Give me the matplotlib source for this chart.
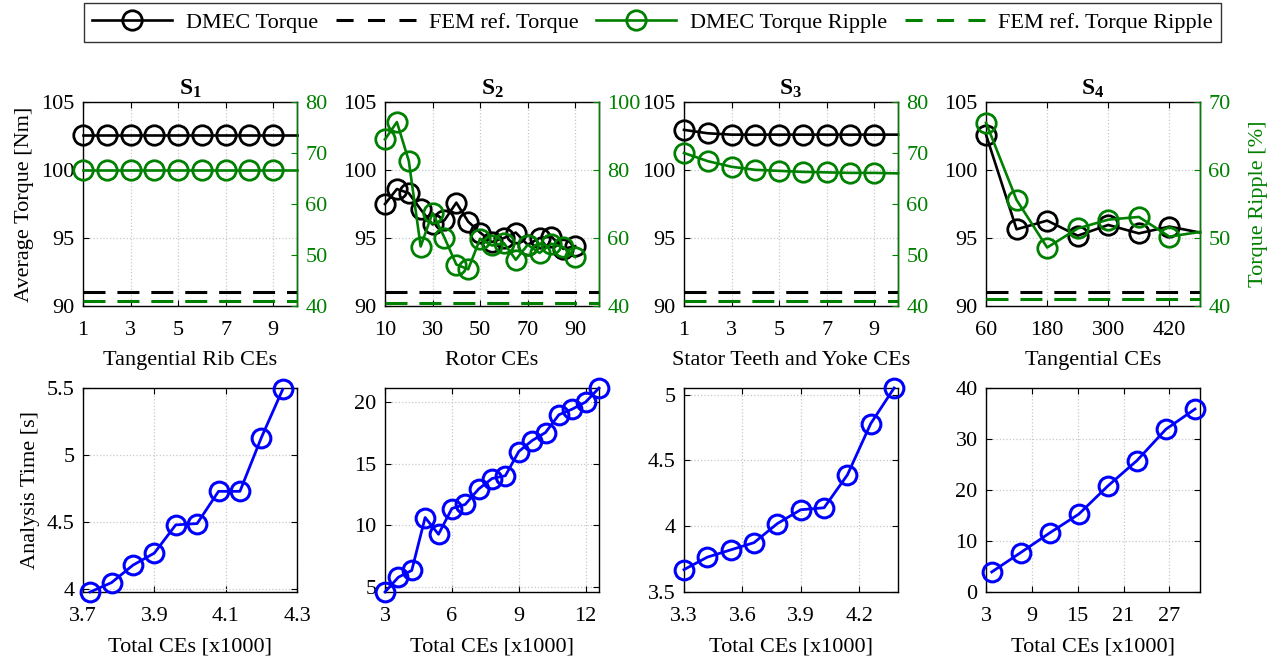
import matplotlib
matplotlib.use("Agg")
import matplotlib.pyplot as plt
from matplotlib.lines import Line2D
from matplotlib.ticker import FuncFormatter

plt.rcParams['font.family'] = ['Liberation Serif', 'DejaVu Serif']
plt.rcParams['mathtext.fontset'] = 'custom'
plt.rcParams['mathtext.rm'] = 'Liberation Serif'
plt.rcParams['mathtext.bf'] = 'Liberation Serif:bold'
plt.rcParams['font.size'] = 16

# ---------------- data ----------------
# S1: tangential rib CEs
s1_x = [1, 2, 3, 4, 5, 6, 7, 8, 9, 10]
s1_torque = [102.58] * 10
s1_ripple = [66.7] * 10
# S2: rotor CEs
s2_x = [10, 15, 20, 25, 30, 35, 40, 45, 50, 55, 60, 65, 70, 75, 80, 85, 90]
s2_torque = [97.5, 98.6, 98.3, 97.1, 96.0, 96.3, 97.6, 96.2, 95.4, 94.7,
             95.0, 95.4, 94.5, 95.0, 95.1, 94.2, 94.4]
s2_ripple = [89.0, 94.1, 82.7, 57.5, 67.4, 60.1, 52.2, 50.8, 59.8, 57.8,
             58.5, 53.6, 58.0, 55.6, 58.3, 57.3, 54.4]
# S3: stator teeth and yoke CEs
s3_x = [1, 2, 3, 4, 5, 6, 7, 8, 9, 10]
s3_torque = [102.95, 102.7, 102.6, 102.6, 102.6, 102.6, 102.6, 102.6, 102.6, 102.6]
s3_ripple = [70.0, 68.4, 67.3, 66.7, 66.5, 66.3, 66.2, 66.1, 66.1, 66.0]
# S4: tangential CEs
s4_x = [60, 120, 180, 240, 300, 360, 420, 480]
s4_torque = [102.6, 95.64, 96.28, 95.17, 95.96, 95.34, 95.84, 95.4]
s4_ripple = [66.95, 55.6, 48.6, 51.4, 52.7, 53.1, 50.2, 50.9]

fem_torque = 91.0
fem_ripple = 41.0

# analysis time vs total CEs [x1000]
b1_x = [3.72, 3.78, 3.84, 3.90, 3.96, 4.02, 4.08, 4.14, 4.20, 4.26]
b1_t = [3.98, 4.05, 4.18, 4.27, 4.48, 4.49, 4.73, 4.73, 5.13, 5.49]
b2_x = [3.0, 3.6, 4.2, 4.8, 5.4, 6.0, 6.6, 7.2, 7.8, 8.4, 9.0, 9.6, 10.2,
        10.8, 11.4, 12.0, 12.6]
b2_t = [4.6, 5.8, 6.35, 10.64, 9.28, 11.37, 11.7, 12.95, 13.8, 14.03,
        15.99, 16.88, 17.53, 18.97, 19.43, 20.0, 21.14]
b3_x = [3.30, 3.42, 3.54, 3.66, 3.78, 3.90, 4.02, 4.14, 4.26, 4.38]
b3_t = [3.67, 3.765, 3.82, 3.875, 4.02, 4.125, 4.14, 4.39, 4.78, 5.05]
b4_x = [3.75, 7.55, 11.35, 15.15, 18.95, 22.75, 26.55, 30.35]
b4_t = [3.93, 7.74, 11.6, 15.28, 20.8, 25.77, 31.93, 35.87]

titles = [r'$\mathbf{S_1}$', r'$\mathbf{S_2}$', r'$\mathbf{S_3}$', r'$\mathbf{S_4}$']
top_xlabels = ['Tangential Rib CEs', 'Rotor CEs', 'Stator Teeth and Yoke CEs', 'Tangential CEs']
bottom_xlabel = 'Total CEs [x1000]'

BLACK = '#000000'
GREEN = '#008000'
BLUE = '#0000FF'

W, H = 1273, 660
fig = plt.figure(figsize=(W / 100, H / 100), dpi=100)

lefts = [83, 385, 684, 986]
aw, ah = 214, 204
top_row_top, bot_row_top = 102, 388

fmt = FuncFormatter(lambda v, p: '%g' % round(v, 6))
AX_DASH = (7.2, 3.9)
LEG_DASH = (5.6, 4.7)


def add_ax(left_px, top_px):
    return fig.add_axes([left_px / W, 1 - (top_px + ah) / H, aw / W, ah / H])


def style(ax):
    ax.grid(True, linestyle=':', color='#c8c8c8', linewidth=0.9)
    ax.set_axisbelow(True)
    ax.tick_params(direction='in', length=4, width=0.8, labelsize=16, pad=6)
    ax.tick_params(axis='x', pad=11)
    for s in ax.spines.values():
        s.set_linewidth(1.0)
    ax.xaxis.set_major_formatter(fmt)
    ax.yaxis.set_major_formatter(fmt)


top_specs = [
    (s1_x, s1_torque, s1_ripple, (1, 10), [1, 3, 5, 7, 9], (40, 80), [40, 50, 60, 70, 80], 9),
    (s2_x, s2_torque, s2_ripple, (10, 100), [10, 30, 50, 70, 90], (40, 100), [40, 60, 80, 100], None),
    (s3_x, s3_torque, s3_ripple, (1, 10), [1, 3, 5, 7, 9], (40, 80), [40, 50, 60, 70, 80], 9),
    (s4_x, s4_torque, s4_ripple, (60, 480), [60, 180, 300, 420], (40, 70), [40, 50, 60, 70], 7),
]

ms = 14
for i, (x, tq, rp, xl, xt, rl, rt, nmark) in enumerate(top_specs):
    ax = add_ax(lefts[i], top_row_top)
    style(ax)
    mk = list(range(nmark)) if nmark else None
    ax.plot(x, tq, '-', color=BLACK, lw=1.9, marker='o', ms=ms, mfc='none',
            mew=2.0, markevery=mk, clip_on=False, zorder=3)
    ax.plot(xl, [fem_torque, fem_torque], '--', color=BLACK, lw=2.2, dashes=AX_DASH)
    ax.set_xlim(*xl)
    ax.set_xticks(xt)
    ax.set_ylim(90, 105)
    ax.set_yticks([90, 95, 100, 105])
    ax.tick_params(top=True, right=False)
    ax.set_title(titles[i], fontsize=17, pad=5)
    ax.set_xlabel(top_xlabels[i], fontsize=16, labelpad=8)
    if i == 0:
        ax.set_ylabel('Average Torque [Nm]', fontsize=16, labelpad=5)

    ax2 = ax.twinx()
    ax2.plot(x, rp, '-', color=GREEN, lw=1.9, marker='o', ms=ms, mfc='none',
             mew=2.0, markevery=mk, clip_on=False, zorder=3)
    ax2.plot(xl, [fem_ripple, fem_ripple], '--', color=GREEN, lw=2.2, dashes=AX_DASH)
    ax2.set_ylim(*rl)
    ax2.set_yticks(rt)
    ax2.yaxis.set_major_formatter(fmt)
    ax2.tick_params(axis='y', direction='in', length=4, width=0.8, colors=GREEN,
                    labelsize=16, pad=6)
    ax2.spines['right'].set_color(GREEN)
    ax2.spines['right'].set_linewidth(1.0)
    for s in ('left', 'top', 'bottom'):
        ax2.spines[s].set_visible(False)
    if i == 3:
        ax2.set_ylabel('Torque Ripple [%]', color=GREEN, fontsize=16, labelpad=13)

bottom_specs = [
    (b1_x, b1_t, (3.7, 4.3), [3.7, 3.9, 4.1, 4.3], (3.98, 5.5), [4, 4.5, 5, 5.5]),
    (b2_x, b2_t, (3, 12.6), [3, 6, 9, 12], (4.6, 21.14), [5, 10, 15, 20]),
    (b3_x, b3_t, (3.3, 4.4), [3.3, 3.6, 3.9, 4.2], (3.5, 5.05), [3.5, 4, 4.5, 5]),
    (b4_x, b4_t, (3, 31), [3, 9, 15, 21, 27], (0, 40), [0, 10, 20, 30, 40]),
]
for i, (x, t, xl, xt, yl, yt) in enumerate(bottom_specs):
    ax = add_ax(lefts[i], bot_row_top)
    style(ax)
    ax.plot(x, t, '-', color=BLUE, lw=2.0, marker='o', ms=13.5, mfc='none',
            mew=2.2, clip_on=False, zorder=3)
    ax.set_xlim(*xl)
    ax.set_xticks(xt)
    ax.set_ylim(*yl)
    ax.set_yticks(yt)
    ax.tick_params(top=True, right=True)
    ax.set_xlabel(bottom_xlabel, fontsize=16, labelpad=8)
    if i == 0:
        ax.set_ylabel('Analysis Time [s]', fontsize=16, labelpad=5)

handles = [
    Line2D([], [], color=BLACK, lw=1.9, marker='o', ms=ms, mfc='none', mew=2.0),
    Line2D([], [], color=BLACK, lw=2.2, ls='--', dashes=LEG_DASH),
    Line2D([], [], color=GREEN, lw=1.9, marker='o', ms=ms, mfc='none', mew=2.0),
    Line2D([], [], color=GREEN, lw=2.2, ls='--', dashes=LEG_DASH),
]
labels = ['DMEC Torque', 'FEM ref. Torque', 'DMEC Torque Ripple', 'FEM ref. Torque Ripple']
leg = fig.legend(handles, labels, loc='center', bbox_to_anchor=(652.5 / W, 1 - 22.5 / H),
                 ncol=4, frameon=True, fancybox=False, edgecolor='black',
                 fontsize=16, handlelength=3.6, handletextpad=0.6,
                 columnspacing=0.8, borderpad=0.4, numpoints=1)
leg.get_frame().set_linewidth(1.0)

fig.savefig('out.png', dpi=100)
